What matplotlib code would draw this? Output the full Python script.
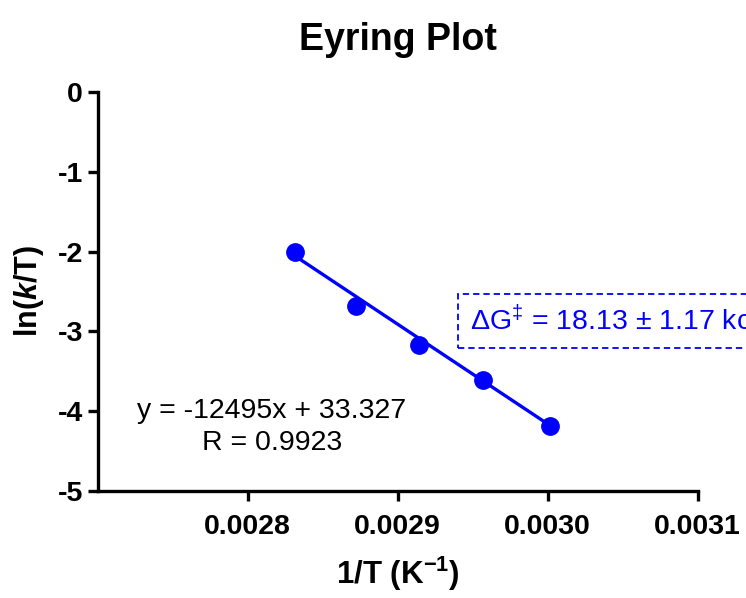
import matplotlib
matplotlib.use("Agg")
import matplotlib.pyplot as plt
import numpy as np

plt.rcParams['font.family'] = ['Liberation Sans', 'DejaVu Sans']
plt.rcParams['mathtext.fontset'] = 'custom'
plt.rcParams['mathtext.rm'] = 'Liberation Sans'
plt.rcParams['mathtext.it'] = 'Liberation Sans:italic'
plt.rcParams['mathtext.bf'] = 'Liberation Sans:bold'
plt.rcParams['mathtext.bfit'] = 'Liberation Sans:italic:bold'

# Temperatures (K) and measured ln(k/T)
temps_K = [353.15, 348.15, 343.15, 338.15, 333.15]
inv_T = [1.0 / t for t in temps_K]
ln_k_over_T = [-2.00, -2.68, -3.17, -3.61, -4.19]

# Linear fit reported on the plot
slope = -12495.0
intercept = 33.327
r_value = 0.9923
dG_value = 18.13
dG_err = 1.17

x_ticks = [0.0028, 0.0029, 0.0030, 0.0031]
x_tick_labels = ["0.0028", "0.0029", "0.0030", "0.0031"]
y_ticks = [0, -1, -2, -3, -4, -5]

blue = (0, 0, 1)

fig = plt.figure(figsize=(7.46, 5.98), dpi=100)
ax = fig.add_axes([97.5 / 746, 1 - 491 / 598, (697.5 - 97.5) / 746, (491 - 92) / 598])

xfit = np.array([min(inv_T), max(inv_T)])
ax.plot(xfit, slope * xfit + intercept, color=blue, lw=2.4, zorder=2)
ax.plot(inv_T, ln_k_over_T, 'o', color=blue, ms=12.5, zorder=3)

ax.set_xlim(0.0027, 0.0031)
ax.set_ylim(-5, 0)
ax.set_xticks(x_ticks)
ax.set_xticklabels(x_tick_labels)
ax.set_yticks(y_ticks)
ax.set_yticklabels([str(v) for v in y_ticks])

for side in ('top', 'right'):
    ax.spines[side].set_visible(False)
for side in ('left', 'bottom'):
    ax.spines[side].set_linewidth(2.4)
    ax.spines[side].set_capstyle('projecting')

ax.tick_params(axis='both', direction='out', length=7.5, width=2.4, labelsize=20.5)
ax.tick_params(axis='x', pad=9)
ax.tick_params(axis='y', pad=3)
for lab in ax.get_xticklabels() + ax.get_yticklabels():
    lab.set_fontweight('bold')

ax.set_title("Eyring Plot", fontsize=27, fontweight='bold', pad=30)
ax.set_xlabel(r"1/T (K$^{\mathbf{-1}}$)", fontsize=22.5, fontweight='bold', labelpad=11)
ax.set_ylabel(r"ln($\mathbfit{k}$/T)", fontsize=22, fontweight='bold', labelpad=8)

eq_x = 0.0028163
ax.text(eq_x, -4.0, f"y = {slope:.0f}x + {intercept}", fontsize=20.5,
        ha='center', va='center')
ax.text(eq_x, -4.4, f"R = {r_value}", fontsize=20.5, ha='center', va='center')

ax.text(0.0029483, -2.87,
        "ΔG$^{‡}$ = " + f"{dG_value:.2f} ± {dG_err:.2f} kcal/mol",
        fontsize=20.5, color=blue, ha='left', va='center', clip_on=False,
        bbox=dict(boxstyle='square,pad=0.42', facecolor='none',
                  edgecolor=blue, linestyle=(0, (3.5, 2.2)), linewidth=1.3))

fig.savefig("out.png", dpi=100)
